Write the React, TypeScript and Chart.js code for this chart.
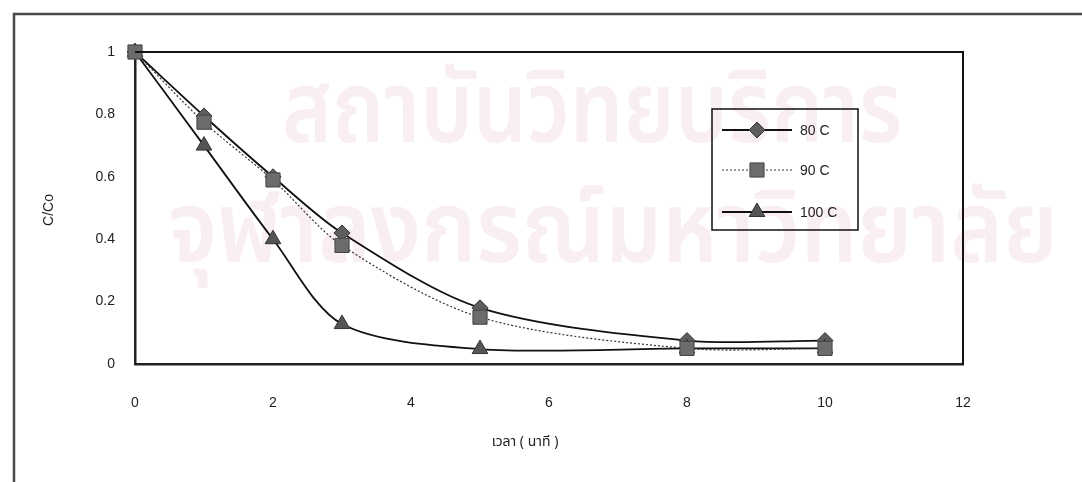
import React, { useEffect, useRef } from "react";
import { Chart, registerables } from "chart.js";
import { drawPoint } from "chart.js/helpers";

Chart.register(...registerables);

// Sampling times (minutes)
const times = [0, 1, 2, 3, 5, 8, 10];

// Relative concentration C/Co at each temperature
const c80 = [1, 0.795, 0.6, 0.42, 0.18, 0.075, 0.075];
const c90 = [1, 0.775, 0.59, 0.38, 0.15, 0.05, 0.05];
const c100 = [1, 0.7, 0.4, 0.128, 0.048, 0.05, 0.05];

const seriesNames = ["80 C", "90 C", "100 C"];

const xTickLabels = ["0", "2", "4", "6", "8", "10", "12"];
const yTickLabels = ["0", "0.2", "0.4", "0.6", "0.8", "1"];

const xTitle = "เวลา ( นาที )";
const yTitle = "C/Co";
const watermarkLines = ["สถาบันวิทยบริการ", "จุฬาลงกรณ์มหาวิทยาลัย"];

const TEXT_FONT = "'Liberation Sans', Arial, sans-serif";

const toPoints = (ys: number[]) => times.map((t, i) => ({ x: t, y: ys[i] }));

const decorPlugin = {
  id: "decor",
  beforeDraw(chart: any) {
    const ctx = chart.ctx as CanvasRenderingContext2D;
    ctx.save();
    ctx.fillStyle = "#ffffff";
    ctx.fillRect(0, 0, chart.width, chart.height);
    // faint institutional watermark
    ctx.fillStyle = "#f9eef1";
    ctx.textBaseline = "alphabetic";
    ctx.textAlign = "left";
    const rows = [
      { text: watermarkLines[0], x: 282, y: 142, w: 620, size: 100 },
      { text: watermarkLines[1], x: 168, y: 262, w: 890, size: 100 },
    ];
    for (const r of rows) {
      ctx.font = `600 ${r.size}px 'Noto Sans Thai', 'Noto Sans', sans-serif`;
      const m = ctx.measureText(r.text).width || 1;
      ctx.save();
      ctx.translate(r.x, r.y);
      ctx.scale(r.w / m, 1);
      ctx.fillText(r.text, 0, 0);
      ctx.restore();
    }
    ctx.restore();
  },
  afterDraw(chart: any) {
    const ctx = chart.ctx as CanvasRenderingContext2D;
    const a = chart.chartArea;
    ctx.save();

    // outer frame
    ctx.strokeStyle = "#4a4a4a";
    ctx.lineWidth = 2.5;
    ctx.beginPath();
    ctx.moveTo(14, chart.height);
    ctx.lineTo(14, 14);
    ctx.lineTo(chart.width, 14);
    ctx.stroke();

    // plot box (top and right sides)
    ctx.strokeStyle = "#111";
    ctx.lineWidth = 2;
    ctx.beginPath();
    ctx.moveTo(a.left, a.top);
    ctx.lineTo(a.right, a.top);
    ctx.lineTo(a.right, a.bottom);
    ctx.stroke();

    // axis titles
    ctx.fillStyle = "#222";
    ctx.font = `14px ${TEXT_FONT}`;
    ctx.textAlign = "center";
    ctx.textBaseline = "middle";
    ctx.save();
    ctx.translate(49, 210);
    ctx.rotate(-Math.PI / 2);
    ctx.fillText(yTitle, 0, 0);
    ctx.restore();
    ctx.font = `14px 'Noto Sans Thai', ${TEXT_FONT}`;
    ctx.fillText(xTitle, 525, 443);

    // legend
    const box = { l: 712, t: 109, r: 858, b: 230 };
    ctx.strokeStyle = "#111";
    ctx.lineWidth = 1.5;
    ctx.strokeRect(box.l, box.t, box.r - box.l, box.b - box.t);
    const rowsY = [130, 170, 212];
    chart.data.datasets.forEach((ds: any, i: number) => {
      const y = rowsY[i];
      ctx.save();
      ctx.strokeStyle = ds.borderColor;
      ctx.lineWidth = ds.borderWidth;
      ctx.setLineDash(ds.borderDash || []);
      ctx.beginPath();
      ctx.moveTo(722, y);
      ctx.lineTo(792, y);
      ctx.stroke();
      ctx.restore();
      ctx.save();
      ctx.fillStyle = ds.pointBackgroundColor;
      ctx.strokeStyle = ds.pointBorderColor;
      ctx.lineWidth = ds.pointBorderWidth;
      drawPoint(
        ctx,
        { pointStyle: ds.pointStyle, radius: ds.pointRadius, borderWidth: ds.pointBorderWidth, rotation: 0 } as any,
        757,
        y
      );
      ctx.restore();
      ctx.fillStyle = "#222";
      ctx.font = `14px ${TEXT_FONT}`;
      ctx.textAlign = "left";
      ctx.textBaseline = "middle";
      ctx.fillText(ds.label, 800, y + 1);
    });
    ctx.restore();
  },
};

export default function App() {
  const canvasRef = useRef<HTMLCanvasElement | null>(null);

  useEffect(() => {
    if (!canvasRef.current) return;
    const chart = new Chart(canvasRef.current, {
      type: "line",
      data: {
        datasets: [
          {
            label: seriesNames[0],
            data: toPoints(c80),
            borderColor: "#111",
            borderWidth: 1.8,
            pointStyle: "rectRot",
            pointRadius: 8,
            pointBackgroundColor: "#5e5e5e",
            pointBorderColor: "#333",
            pointBorderWidth: 1,
            tension: 0.3,
            clip: false,
            order: 3,
          },
          {
            label: seriesNames[1],
            data: toPoints(c90),
            borderColor: "#333",
            borderWidth: 1.2,
            borderDash: [2, 2],
            pointStyle: "rect",
            pointRadius: 10,
            pointBackgroundColor: "#6c6c6c",
            pointBorderColor: "#444",
            pointBorderWidth: 1,
            tension: 0.3,
            clip: false,
            order: 1,
          },
          {
            label: seriesNames[2],
            data: toPoints(c100),
            borderColor: "#111",
            borderWidth: 1.8,
            pointStyle: "triangle",
            pointRadius: 9,
            pointBackgroundColor: "#555",
            pointBorderColor: "#333",
            pointBorderWidth: 1,
            tension: 0.3,
            clip: false,
            order: 2,
          },
        ] as any,
      },
      plugins: [decorPlugin],
      options: {
        responsive: false,
        animation: false,
        layout: { padding: { left: 0, top: 52, right: 119, bottom: 0 } },
        plugins: { legend: { display: false }, tooltip: { enabled: false } },
        scales: {
          x: {
            type: "linear",
            min: 0,
            max: 12,
            afterFit: (s: any) => {
              s.height = 118;
            },
            ticks: {
              stepSize: 2,
              padding: 31,
              color: "#222",
              font: { family: TEXT_FONT, size: 14 },
              callback: (v: any) => xTickLabels[Math.round(Number(v) / 2)] ?? "",
            },
            grid: { display: false, drawTicks: false },
            border: { display: true, color: "#222", width: 2.5 },
          },
          y: {
            min: 0,
            max: 1,
            afterFit: (s: any) => {
              s.width = 135;
            },
            ticks: {
              stepSize: 0.2,
              padding: 20,
              color: "#222",
              font: { family: TEXT_FONT, size: 14 },
              callback: (v: any) => yTickLabels[Math.round(Number(v) * 5)] ?? "",
            },
            grid: { display: false, drawTicks: false },
            border: { display: true, color: "#222", width: 2.5 },
          },
        },
      } as any,
    });
    return () => chart.destroy();
  }, []);

  return (
    <div style={{ position: "absolute", left: 0, top: 0, width: 1082, height: 482, background: "#fff" }}>
      <canvas ref={canvasRef} width={1082} height={482} style={{ display: "block" }} />
    </div>
  );
}
